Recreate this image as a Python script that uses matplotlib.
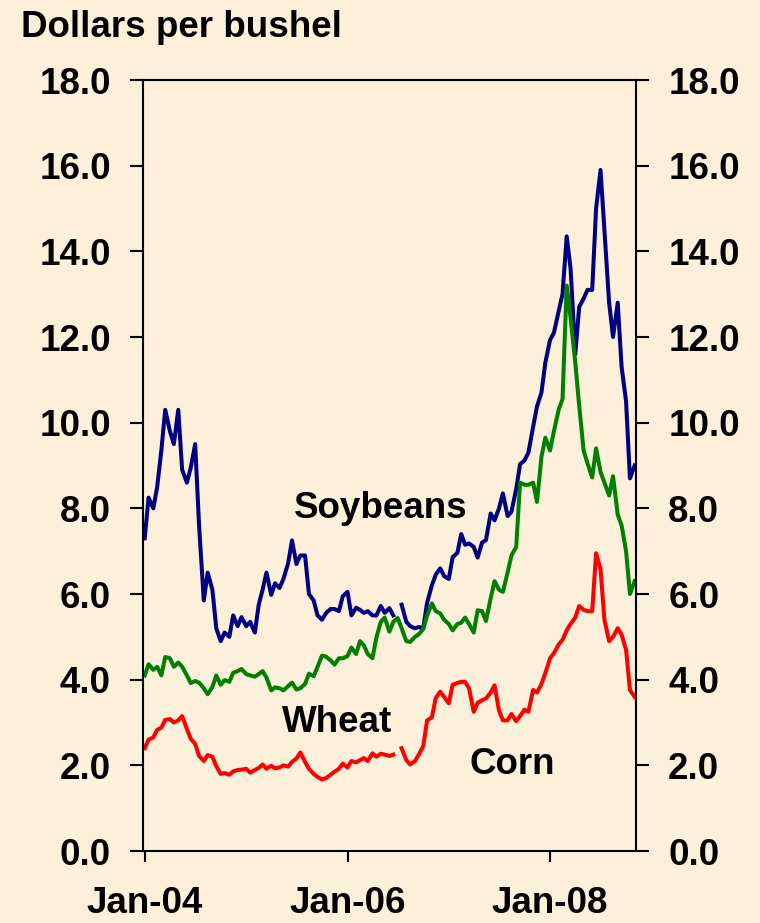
import numpy as np
import pandas as pd
import matplotlib
matplotlib.use("Agg")
import matplotlib.pyplot as plt

nan = np.nan

# semi-monthly prices, Jan 2004 - Nov 2008 (dollars per bushel)
dates = pd.date_range("2004-01-01", "2008-11-01", freq="SMS")

soybeans = [7.3, 8.25, 8.0, 8.5, 9.35, 10.3, 9.8, 9.5, 10.3, 8.9,
            8.6, 8.95, 9.5, 7.6, 5.85, 6.5, 6.1, 5.2, 4.9, 5.1,
            5.0, 5.5, 5.25, 5.46, 5.25, 5.35, 5.1, 5.75, 6.1, 6.5,
            5.98, 6.25, 6.14, 6.35, 6.72, 7.25, 6.7, 6.9, 6.9, 6.0,
            5.85, 5.5, 5.4, 5.55, 5.65, 5.65, 5.6, 5.95, 6.05, 5.5,
            5.68, 5.63, 5.56, 5.6, 5.5, 5.5, 5.72, 5.56, 5.67, 5.5,
            nan, 5.75, 5.35, 5.25, 5.2, 5.23, 5.2, 5.8, 6.2, 6.45,
            6.6, 6.42, 6.35, 6.86, 6.96, 7.4, 7.15, 7.18, 7.1, 6.85,
            7.2, 7.26, 7.88, 7.72, 8.0, 8.35, 7.82, 7.92, 8.45, 9.03,
            9.12, 9.3, 9.9, 10.38, 10.7, 11.4, 11.93, 12.1, 12.6, 13.0,
            14.35, 13.6, 11.6, 12.7, 12.9, 13.1, 13.1, 15.0, 15.9, 14.5,
            12.8, 12.0, 12.8, 11.3, 10.5, 8.7, 9.0]

wheat = [4.1, 4.36, 4.23, 4.3, 4.1, 4.53, 4.5, 4.3, 4.4, 4.3,
         4.1, 3.92, 3.97, 3.93, 3.8, 3.66, 3.83, 4.1, 3.88, 3.99,
         3.95, 4.16, 4.2, 4.25, 4.13, 4.1, 4.07, 4.13, 4.2, 4.05,
         3.75, 3.82, 3.8, 3.75, 3.85, 3.93, 3.77, 3.8, 3.9, 4.14,
         4.08, 4.3, 4.56, 4.54, 4.45, 4.35, 4.5, 4.5, 4.55, 4.75,
         4.6, 4.9, 4.8, 4.6, 4.5, 4.98, 5.35, 5.45, 5.12, 5.35,
         5.44, 5.2, 4.9, 4.88, 5.0, 5.06, 5.18, 5.5, 5.78, 5.6,
         5.55, 5.4, 5.3, 5.15, 5.3, 5.33, 5.45, 5.3, 5.1, 5.62,
         5.6, 5.37, 5.9, 6.3, 6.1, 6.05, 6.5, 6.9, 7.1, 8.6,
         8.55, 8.55, 8.6, 8.15, 9.2, 9.65, 9.35, 9.8, 10.3, 10.55,
         13.2, 12.45, 11.4, 10.4, 9.35, 9.05, 8.72, 9.4, 8.85, 8.6,
         8.3, 8.75, 7.85, 7.6, 7.0, 6.0, 6.3]

corn = [2.4, 2.6, 2.65, 2.83, 2.88, 3.06, 3.08, 3.0, 3.05, 3.15,
        2.85, 2.62, 2.5, 2.22, 2.1, 2.24, 2.2, 1.98, 1.8, 1.82,
        1.78, 1.86, 1.89, 1.9, 1.92, 1.83, 1.89, 1.94, 2.02, 1.92,
        1.99, 1.93, 1.95, 2.0, 1.97, 2.08, 2.16, 2.3, 2.08, 1.92,
        1.8, 1.73, 1.67, 1.7, 1.78, 1.85, 1.92, 2.04, 1.95, 2.1,
        2.07, 2.12, 2.17, 2.1, 2.28, 2.2, 2.27, 2.25, 2.22, 2.25,
        nan, 2.4, 2.12, 2.02, 2.1, 2.25, 2.45, 3.05, 3.12, 3.57,
        3.72, 3.6, 3.45, 3.88, 3.92, 3.95, 3.95, 3.8, 3.25, 3.46,
        3.52, 3.56, 3.7, 3.87, 3.28, 3.05, 3.05, 3.2, 3.03, 3.15,
        3.3, 3.25, 3.76, 3.7, 3.9, 4.15, 4.5, 4.62, 4.82, 4.93,
        5.15, 5.3, 5.45, 5.72, 5.63, 5.6, 5.6, 6.95, 6.58, 5.4,
        4.9, 5.0, 5.2, 5.05, 4.7, 3.76, 3.6]

tick_dates = ["2004-01-01", "2006-01-01", "2008-01-01"]
tick_labels = ["Jan-04", "Jan-06", "Jan-08"]
y_ticks = np.arange(0, 18.1, 2)

bg = "#fcf0db"
fs = 26.5
plt.rcParams["font.family"] = ["Liberation Sans", "DejaVu Sans"]
plt.rcParams["font.weight"] = "bold"

fig = plt.figure(figsize=(7.6, 9.23), dpi=100, facecolor=bg)
ax = fig.add_axes([0.1882, 0.0780, 0.6487, 0.8353])
ax.set_facecolor(bg)

# the three price series
ax.plot(dates, soybeans, color="#000080", lw=2.9, solid_joinstyle="round")
ax.plot(dates, wheat, color="#008000", lw=2.9, solid_joinstyle="round")
ax.plot(dates, corn, color="#ff0000", lw=2.9, solid_joinstyle="round")

ax.set_ylim(0, 18)
ax.set_xlim(pd.Timestamp("2003-12-26"), pd.Timestamp("2008-11-06"))
ax.set_yticks(y_ticks)
ax.set_yticklabels([f"{v:.1f}" for v in y_ticks])
ax.set_xticks([pd.Timestamp(d) for d in tick_dates])
ax.set_xticklabels(tick_labels)

for s in ax.spines.values():
    s.set_linewidth(1.5)
    s.set_color("black")

ax.tick_params(axis="y", which="both", direction="out", length=9.4, width=1.5,
               pad=13.7, labelsize=fs, left=True, right=True,
               labelleft=True, labelright=True)
ax.tick_params(axis="x", direction="out", length=8, width=1.5,
               pad=17, labelsize=fs)
for lab in ax.get_xticklabels() + ax.get_yticklabels():
    lab.set_fontweight("bold")

ax.text(0.3053, 0.4319, "Soybeans", transform=ax.transAxes, fontsize=fs,
        fontweight="bold", ha="left", va="baseline")
ax.text(0.282, 0.1543, "Wheat", transform=ax.transAxes, fontsize=fs,
        fontweight="bold", ha="left", va="baseline")
ax.text(0.6617, 0.1005, "Corn", transform=ax.transAxes, fontsize=fs,
        fontweight="bold", ha="left", va="baseline")

fig.text(0.027, 0.9602, "Dollars per bushel", fontsize=fs, fontweight="bold",
         ha="left", va="baseline")

fig.savefig("out.png", dpi=100, facecolor=bg)
